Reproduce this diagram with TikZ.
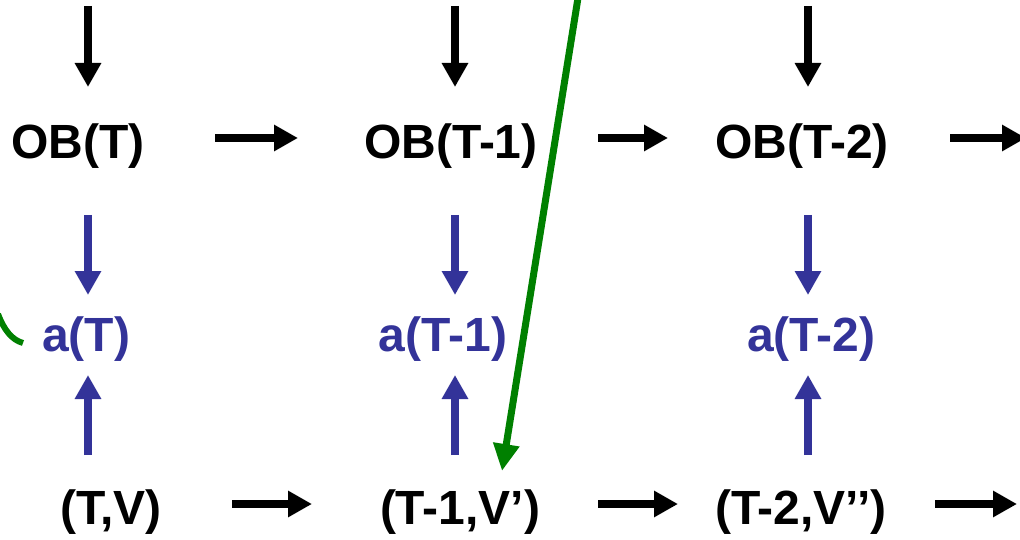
\documentclass[tikz,border=0pt]{standalone}
\usepackage{fontspec}
\setmainfont{Liberation Sans}
\usetikzlibrary{arrows.meta}
\definecolor{navy}{HTML}{333399}
\definecolor{grn}{HTML}{008000}
\tikzset{
  lbl/.style={font=\fontsize{48}{52}\selectfont\bfseries, inner sep=0pt, anchor=center},
  blk/.style={line width=8pt, -{Triangle[length=24pt,width=25pt]}, black},
  blu/.style={line width=8pt, -{Triangle[length=24pt,width=25pt]}, navy},
  grnarrow/.style={line width=7pt, -{Triangle[length=27pt,width=25pt]}, grn},
}
\begin{document}
\begin{tikzpicture}[x=1pt,y=-1pt]
\useasboundingbox (0,0) rectangle (1020,540);
% labels
\node[lbl] (ob0) at (78,146) {OB(T)};
\node[lbl] (ob1) at (451,146) {OB(T-1)};
\node[lbl] (ob2) at (802,146) {OB(T-2)};
\node[lbl, text=navy] (a0) at (86,339) {a(T)};
\node[lbl, text=navy] (a1) at (443,339) {a(T-1)};
\node[lbl, text=navy] (a2) at (811,339) {a(T-2)};
\node[lbl] (s0) at (111,512) {(T,V)};
\node[lbl] (s1) at (460,512) {(T-1,V’)};
\node[lbl] (s2) at (801,512) {(T-2,V’’)};
% coordinates
\foreach \n/\x in {0/88,1/455,2/808} {
  \coordinate (t\n s) at (\x,6);
  \coordinate (t\n e) at (\x,87);
  \coordinate (d\n s) at (\x,215);
  \coordinate (d\n e) at (\x,295);
  \coordinate (u\n s) at (\x,455);
  \coordinate (u\n e) at (\x,375);
}
\coordinate (h0s) at (215,138); \coordinate (h0e) at (298,138);
\coordinate (h1s) at (598,138); \coordinate (h1e) at (668,138);
\coordinate (h2s) at (950,138); \coordinate (h2e) at (1026,138);
\coordinate (b0s) at (232,504); \coordinate (b0e) at (312,504);
\coordinate (b1s) at (598,504); \coordinate (b1e) at (678,504);
\coordinate (b2s) at (935,504); \coordinate (b2e) at (1017,504);
\coordinate (gs) at (578,-2);
\coordinate (ge) at (502,471);
% arrows
\foreach \n in {0,1,2} {
  \draw[blk] (t\n s) -- (t\n e);
  \draw[blu] (d\n s) -- (d\n e);
  \draw[blu] (u\n s) -- (u\n e);
}
\draw[blk] (h0s) -- (h0e);
\draw[blk] (h1s) -- (h1e);
\draw[blk] (h2s) -- (h2e);
\draw[blk] (b0s) -- (b0e);
\draw[blk] (b1s) -- (b1e);
\draw[blk] (b2s) -- (b2e);
\draw[grnarrow] (gs) -- (ge);
\coordinate (cs) at (-2,314);
\coordinate (ce) at (23,343);
\draw[grn, line width=6pt] (cs) .. controls (4,330) and (12,340) .. (ce);
\end{tikzpicture}
\end{document}
